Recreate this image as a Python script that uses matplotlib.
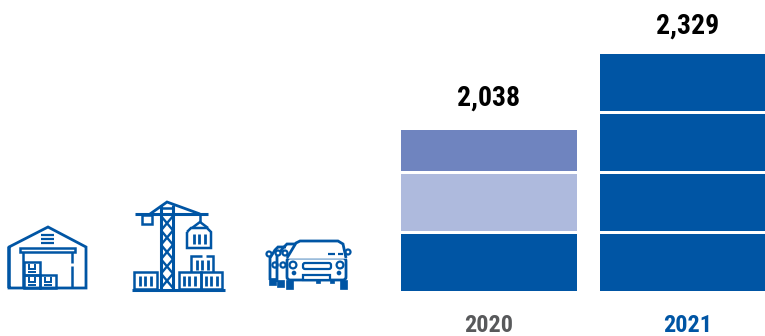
import matplotlib
matplotlib.use("Agg")
import matplotlib.pyplot as plt
from matplotlib.patches import Circle, FancyBboxPatch, Rectangle

years = ["2020", "2021"]
totals = ["2,038", "2,329"]
# stack heights are in blocks, the totals are only printed above the stacks
blocks_2020 = [1.0, 1.0, 0.733]
blocks_2021 = [1.0, 1.0, 1.0, 1.0]
colors_2020 = ["#0055A4", "#AEBADD", "#6F84BF"]
colors_2021 = ["#0055A4", "#0055A4", "#0055A4", "#0055A4"]
year_colors = ["#58595B", "#0055A4"]
label_offsets = [24, 20]

BLUE = "#0055A4"
FONT = "Roboto Condensed"
GAP = 0.05

fig = plt.figure(figsize=(7.65, 3.36), dpi=100)
ax = fig.add_axes([0, 0, 1, 1])
ax.set_xlim(-489 / 199, 276 / 199)
ax.set_ylim(-45 / 60, 291 / 60)
ax.axis("off")

for x, blocks, colors in [(0, blocks_2020, colors_2020), (1, blocks_2021, colors_2021)]:
    bottom = 0
    for h, c in zip(blocks, colors):
        ax.bar(x, h - GAP, width=176 / 199, bottom=bottom, color=c)
        bottom += h
    top = bottom - GAP
    ax.annotate(totals[x], (x, top), xytext=(0, label_offsets[x] * 0.72),
                textcoords="offset points", ha="center", va="baseline",
                fontsize=20, fontweight="bold", color="black", family=FONT)
    ax.annotate(years[x], (x, 0), xytext=(0, -41 * 0.72), textcoords="offset points",
                ha="center", va="baseline", fontsize=17.5, fontweight="bold",
                color=year_colors[x], family=FONT)

# icons on their own overlay, measured in pixels from the top left
ic = fig.add_axes([0, 0, 1, 1])
ic.set_xlim(0, 765)
ic.set_ylim(336, 0)
ic.axis("off")
ic.patch.set_alpha(0)


def line(xs, ys, lw=1.8, z=2):
    ic.plot(xs, ys, color=BLUE, lw=lw, solid_capstyle="butt", solid_joinstyle="miter", zorder=z)


def box(x0, y0, x1, y1, lw=1.8):
    ic.add_patch(Rectangle((x0, y0), x1 - x0, y1 - y0, fill=False, ec=BLUE, lw=lw))


def bars(x0, y0, y1, step=5.5, n=3):
    for i in range(n):
        line([x0 + i * step] * 2, [y0, y1], lw=2.0)


def dot(x, y, r, hollow=True, z=4):
    ic.add_patch(Circle((x, y), r, fc="white" if hollow else BLUE, ec=BLUE, lw=1.6, zorder=z))


def wheel(x0, x1, y0, y1, z=4):
    ic.add_patch(Rectangle((x0, y0), x1 - x0, y1 - y0, fc=BLUE, ec=BLUE, lw=0.5, zorder=z))


# warehouse
line([9, 9, 48, 86, 86, 9, 9], [288, 247, 227, 247, 288, 288, 247], lw=2.0)
for y in [235, 239, 243]:
    line([41, 54], [y, y], lw=1.6)
box(20, 248, 75, 252)
line([23, 23], [252, 288])
line([72, 72], [252, 263])
line([72, 72], [266, 288])
box(24, 262, 40, 275)
box(24, 275, 40, 288)
box(40, 275, 56, 288)
for x, y in [(32, 264), (32, 277), (48, 277)]:
    line([x - 3, x - 3, x + 3, x + 3], [y, y + 5, y + 5, y], lw=1.4)
    line([x - 4, x + 4], [y + 8, y + 8], lw=1.4)

# crane
line([135, 208], [214, 214], lw=2.2)
line([150, 167, 200], [214, 202, 214], lw=2.0)
line([161, 161], [205, 290], lw=2.2)
line([173, 173], [205, 290], lw=2.2)
line([161, 173], [208, 208])
y = 216
for i in range(5):
    line([161, 173], [y, y + 14.4], lw=1.7)
    line([173, 161], [y, y + 14.4], lw=1.7)
    y += 14.4
box(142, 215, 152, 224)
line([200, 200], [215, 222])
line([192, 200, 208], [228, 222, 228])
line([187, 191, 207, 211, 211, 187, 187], [232, 228, 228, 232, 248, 248, 232])
bars(194, 234, 244)
box(134, 272, 157, 289)
bars(140, 276, 286)
box(179, 272, 201, 289)
box(201, 272, 222, 289)
bars(184, 276, 286)
bars(206, 276, 286)
line([191, 191, 202], [272, 256, 256])
line([206, 213, 213], [256, 256, 272])
bars(197, 260, 270)
line([132, 225], [290, 290], lw=2.2)

# two cars behind, only partly visible
line([270, 270, 275, 278, 286], [280, 258, 250, 247, 247], lw=2.0)
dot(269, 254, 2.5, z=2)
dot(275, 265, 2.6, z=2)
wheel(269, 276, 278, 285, z=2)
line([277, 277, 283, 287, 296], [282, 256, 248, 244, 244], lw=2.0, z=3)
dot(278, 253, 2.5, z=3)
dot(283, 265, 2.6, z=3)
wheel(277, 284, 280, 287, z=3)

# front car
ic.add_patch(FancyBboxPatch((287, 258), 59, 22, boxstyle="round,pad=0,rounding_size=3",
                            fc="white", ec=BLUE, lw=2.0, zorder=3))
ic.fill([288, 296, 300, 338, 343, 346], [258, 243, 241, 241, 244, 258], color="white", zorder=3)
line([287, 296, 300, 338, 343, 346], [258, 243, 241, 241, 244, 258], lw=2.0, z=4)
wheel(286, 293, 280, 289)
wheel(340, 347, 280, 289)
wheel(316, 320, 280, 283)
wheel(330, 334, 280, 283)
dot(348, 252, 2.5)
dot(285, 253, 2.5)
dot(293, 265, 3.4)
dot(340, 265, 3.4)
dot(294, 273, 1.2, hollow=False)
dot(339, 273, 1.2, hollow=False)
ic.add_patch(FancyBboxPatch((303, 263), 28, 6, boxstyle="round,pad=0,rounding_size=2",
                            fc="white", ec=BLUE, lw=1.6, zorder=4))
ic.add_patch(Rectangle((303, 275), 27, 5, fc="white", ec=BLUE, lw=1.6, zorder=4))
line([328, 335], [254, 254], lw=1.6, z=4)
line([338, 343], [254, 254], lw=1.6, z=4)

fig.savefig("out.png", dpi=100)
